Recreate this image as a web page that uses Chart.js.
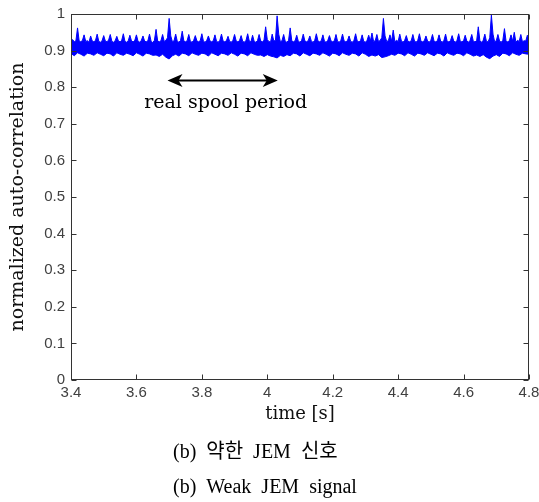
<!DOCTYPE html>
<html>
<head>
<meta charset="utf-8">
<script src="https://cdn.jsdelivr.net/npm/chart.js@4"></script>
<style>
  html, body { margin: 0; padding: 0; background: #fff; }
  #wrap { position: relative; width: 539px; height: 502px; }
</style>
</head>
<body>
<div id="wrap"><canvas id="c"></canvas></div>
<script>
// time grid of the trace
const tStart = 3.4;
const tEnd = 4.8;

// upper edge of the autocorrelation trace (every 0.005 s)
const upper = [
  .926,.93,.924,.927,.962,.926,.924,.928,.943,.925,.927,.923,.94,.926,.924,.928,.945,.925,.923,.927,
  .941,.926,.924,.929,.944,.925,.923,.927,.939,.926,.924,.928,.946,.925,.923,.927,.942,.926,.924,.928,
  .943,.925,.923,.928,.94,.926,.924,.927,.945,.925,.922,.928,.958,.926,.924,.927,.944,.925,.928,.935,
  .988,.94,.924,.927,.945,.925,.923,.928,.953,.926,.924,.927,.944,.925,.923,.928,.941,.926,.924,.927,
  .946,.925,.923,.928,.94,.926,.924,.927,.943,.925,.923,.928,.945,.926,.924,.927,.939,.925,.923,.928,
  .944,.926,.924,.927,.941,.925,.923,.928,.946,.926,.924,.942,.925,.923,.927,.944,.926,.924,.928,.965,
  .93,.925,.923,.945,.926,.928,.995,.945,.924,.927,.944,.925,.923,.928,.962,.926,.924,.927,.942,.925,
  .923,.928,.945,.926,.924,.927,.94,.925,.923,.928,.946,.926,.924,.927,.943,.925,.923,.928,.941,.926,
  .924,.927,.944,.925,.923,.928,.945,.926,.924,.927,.94,.925,.923,.928,.946,.926,.924,.927,.943,.925,
  .923,.928,.942,.926,.948,.925,.927,.944,.924,.928,.935,.988,.94,.925,.927,.943,.926,.956,.924,.928,
  .925,.945,.926,.923,.928,.941,.925,.924,.927,.944,.926,.923,.928,.946,.925,.924,.927,.94,.926,.923,
  .928,.944,.925,.924,.927,.943,.926,.923,.928,.945,.925,.924,.927,.941,.926,.923,.928,.946,.925,.924,
  .927,.942,.926,.923,.928,.944,.925,.924,.927,.965,.926,.923,.928,.945,.925,.924,.935,.997,.945,.924,
  .927,.944,.926,.923,.928,.96,.925,.924,.927,.943,.926,.95,.923,.928,.925,.944,.924,.927,.926,.942,
  .926
];

// lower edge of the trace (every 0.01 s)
const lower = [
  .892,.886,.894,.89,.885,.893,.891,.887,.894,.89,.886,.893,.891,.885,.894,.89,.887,.893,.89,.886,
  .894,.89,.885,.893,.891,.887,.888,.884,.89,.882,.877,.886,.89,.885,.893,.891,.886,.894,.89,.887,
  .893,.891,.885,.894,.89,.886,.893,.891,.887,.894,.89,.885,.893,.891,.886,.894,.89,.887,.888,.884,
  .889,.885,.883,.88,.887,.884,.889,.886,.893,.891,.885,.894,.89,.886,.893,.891,.887,.894,.89,.885,
  .893,.891,.886,.894,.89,.887,.893,.891,.885,.894,.89,.884,.888,.885,.889,.881,.883,.886,.89,.887,
  .893,.891,.886,.894,.89,.885,.893,.891,.887,.894,.89,.886,.893,.891,.885,.894,.89,.887,.893,.891,
  .886,.894,.89,.885,.888,.884,.889,.882,.878,.885,.889,.884,.893,.891,.886,.894,.89,.887,.893,.891,
  .89
];

// axis ticks
const xTicks = [3.4, 3.6, 3.8, 4, 4.2, 4.4, 4.6, 4.8];
const yTicks = [0, 0.1, 0.2, 0.3, 0.4, 0.5, 0.6, 0.7, 0.8, 0.9, 1];

// spool period annotation (data units)
const periodStart = 3.695;
const periodEnd = 4.032;
const arrowY = 0.818;
const periodLabelY = 0.744;

const toPoints = arr => arr.map((v, i) => ({
  x: tStart + (tEnd - tStart) * i / (arr.length - 1),
  y: v
}));

const BLUE = 'rgb(0,0,255)';
const serif = '"DejaVu Serif", serif';
const fmt = v => String(Number(v.toFixed(1)));

function arrowHead(ctx, tipX, yy, dir) {
  ctx.beginPath();
  ctx.moveTo(tipX, yy);
  ctx.lineTo(tipX + dir * 15, yy - 6.5);
  ctx.lineTo(tipX + dir * 11, yy);
  ctx.lineTo(tipX + dir * 15, yy + 6.5);
  ctx.closePath();
  ctx.fill();
}

const frame = {
  id: 'frame',
  afterDatasetsDraw(chart) {
    const { ctx, chartArea: a, scales: { x, y } } = chart;
    ctx.save();

    // box
    ctx.strokeStyle = '#333';
    ctx.lineWidth = 1;
    const L = Math.round(a.left) + 0.5, R = Math.round(a.right) - 0.5;
    const T = Math.round(a.top) + 0.5, B = Math.round(a.bottom) - 0.5;
    ctx.strokeRect(L, T, R - L, B - T);

    // inward ticks on all sides
    ctx.beginPath();
    xTicks.forEach(v => {
      const px = Math.round(x.getPixelForValue(v)) + 0.5;
      ctx.moveTo(px, B); ctx.lineTo(px, B - 5);
      ctx.moveTo(px, T); ctx.lineTo(px, T + 5);
    });
    yTicks.forEach(v => {
      const py = Math.round(y.getPixelForValue(v)) + 0.5;
      ctx.moveTo(L, py); ctx.lineTo(L + 5, py);
      ctx.moveTo(R, py); ctx.lineTo(R - 5, py);
    });
    ctx.stroke();

    // spool period arrow
    const x1 = x.getPixelForValue(periodStart);
    const x2 = x.getPixelForValue(periodEnd);
    const ay = y.getPixelForValue(arrowY);
    ctx.strokeStyle = '#000';
    ctx.fillStyle = '#000';
    ctx.lineWidth = 2;
    ctx.beginPath();
    ctx.moveTo(x1 + 10, ay);
    ctx.lineTo(x2 - 10, ay);
    ctx.stroke();
    arrowHead(ctx, x1, ay, 1);
    arrowHead(ctx, x2, ay, -1);

    ctx.font = '19px ' + serif;
    ctx.textAlign = 'center';
    ctx.textBaseline = 'alphabetic';
    ctx.fillText('real spool period', (x1 + x2) / 2 + 3, y.getPixelForValue(periodLabelY));

    // x axis title
    ctx.fillStyle = '#111';
    ctx.font = '18px ' + serif;
    ctx.textBaseline = 'middle';
    ctx.fillText('time [s]', (a.left + a.right) / 2, 414);

    // captions
    ctx.fillStyle = '#000';
    ctx.textAlign = 'left';
    ctx.font = '20px "Liberation Serif", "Noto Sans CJK KR", serif';
    ctx.fillText('(b)  약한  JEM  신호', 173, 453);
    ctx.fillText('(b)  Weak  JEM  signal', 173, 488);

    ctx.restore();
  }
};

new Chart(document.getElementById('c'), {
  type: 'line',
  data: {
    datasets: [
      {
        data: toPoints(upper),
        borderColor: BLUE,
        borderWidth: 1,
        pointRadius: 0,
        fill: false
      },
      {
        data: toPoints(lower),
        borderColor: BLUE,
        borderWidth: 1,
        pointRadius: 0,
        backgroundColor: BLUE,
        fill: '-1'
      }
    ]
  },
  options: {
    responsive: true,
    maintainAspectRatio: false,
    animation: false,
    layout: { padding: { top: 14, right: 10, left: 0, bottom: 0 } },
    plugins: { legend: { display: false }, tooltip: { enabled: false } },
    scales: {
      x: {
        type: 'linear',
        min: 3.4,
        max: 4.8,
        afterFit: s => { s.height = 122; s.paddingLeft = 0; s.paddingRight = 0; },
        afterBuildTicks: s => { s.ticks = xTicks.map(v => ({ value: v })); },
        grid: { display: false, drawTicks: false },
        border: { display: false },
        ticks: {
          padding: 4,
          maxRotation: 0,
          autoSkip: false,
          color: '#404040',
          callback: fmt,
          font: { family: '"Liberation Sans", Arial, sans-serif', size: 15 }
        }
      },
      y: {
        min: 0,
        max: 1,
        afterFit: s => { s.width = 71; s.paddingTop = 0; s.paddingBottom = 0; },
        afterBuildTicks: s => { s.ticks = yTicks.map(v => ({ value: v })); },
        grid: { display: false, drawTicks: false },
        border: { display: false },
        ticks: {
          padding: 6,
          autoSkip: false,
          color: '#404040',
          callback: fmt,
          font: { family: '"Liberation Sans", Arial, sans-serif', size: 15 }
        },
        title: {
          display: true,
          text: 'normalized auto-correlation',
          color: '#111',
          font: { family: serif, size: 19 },
          padding: { top: 7, bottom: 0 }
        }
      }
    }
  },
  plugins: [frame]
});
</script>
</body>
</html>
